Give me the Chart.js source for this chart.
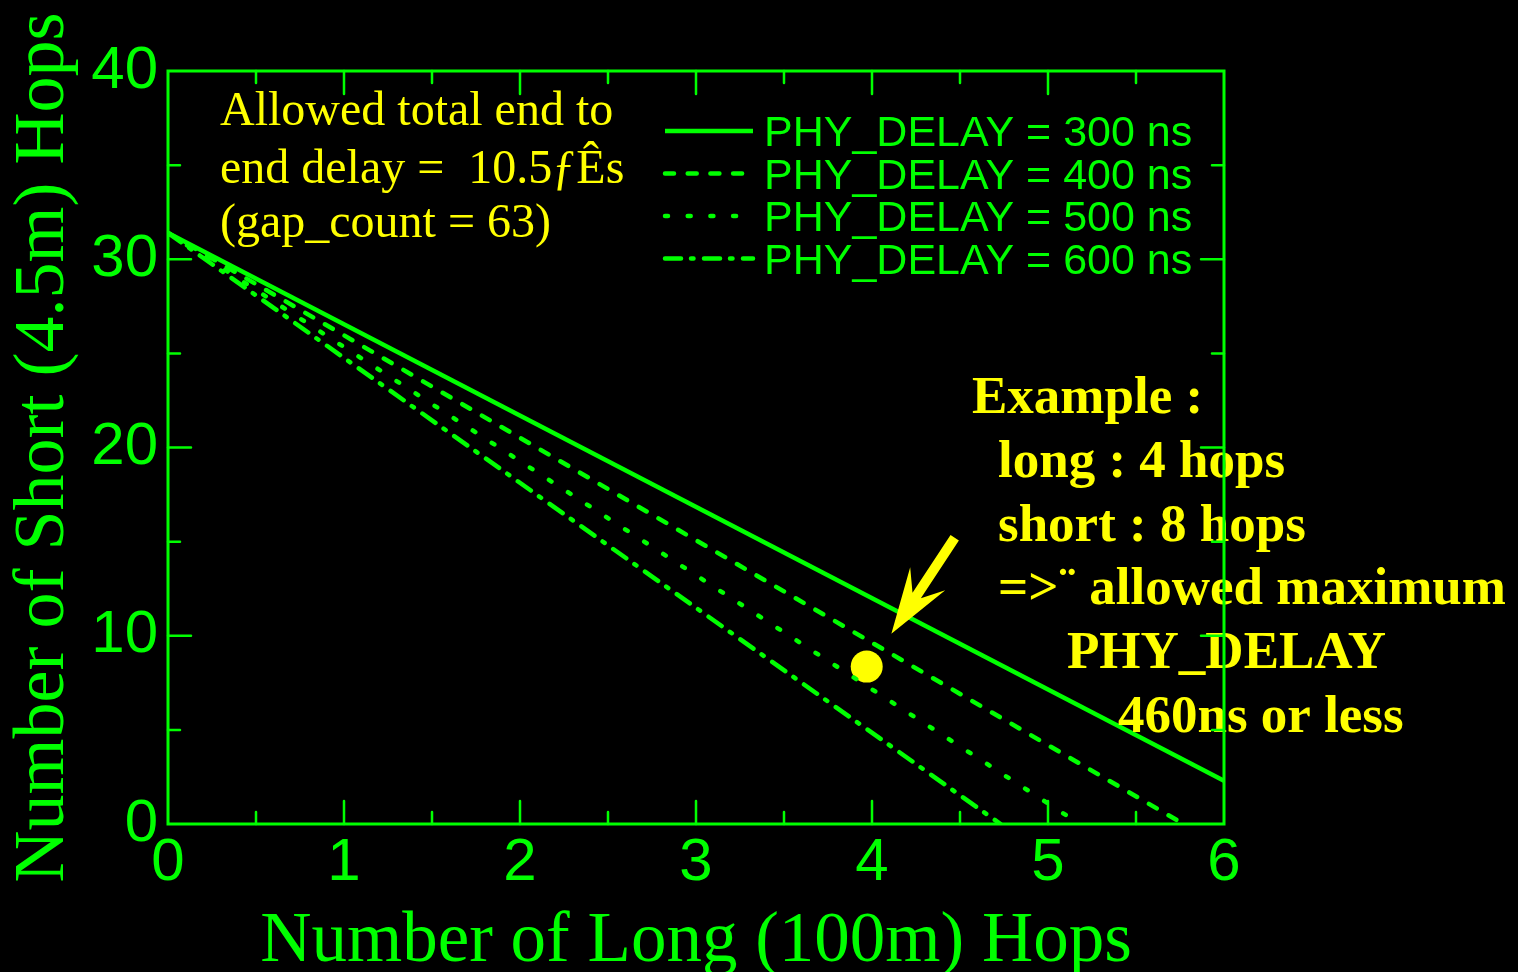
<!DOCTYPE html>
<html>
<head>
<meta charset="utf-8">
<script src="https://cdn.jsdelivr.net/npm/chart.js@4.4.0/dist/chart.umd.min.js"></script>
<style>
  html, body { margin: 0; padding: 0; background: #000; overflow: hidden; }
</style>
</head>
<body>
<canvas id="hopsChart" width="1518" height="972"></canvas>
<script>
const GREEN = '#00ff00';
const YELLOW = '#ffff00';

// values: every curve is a straight line from the same start
const seriesLabels = ['PHY_DELAY = 300 ns', 'PHY_DELAY = 400 ns', 'PHY_DELAY = 500 ns', 'PHY_DELAY = 600 ns'];
const longHops300 = [0, 6];
const shortHops300 = [31.4, 2.3];
const longHops400 = [0, 5.77];
const shortHops400 = [31.4, 0];
const longHops500 = [0, 5.18];
const shortHops500 = [31.4, 0];
const longHops600 = [0, 4.73];
const shortHops600 = [31.4, 0];

// the example point and the arrow pointing at the 460 ns region
const exampleLong = [3.97];
const exampleShort = [8.36];
const arrowTail = [4.47, 15.2];
const arrowTip = [4.11, 10.1];

const xTickLabels = ['0', '1', '2', '3', '4', '5', '6'];
const yTickLabels = ['0', '10', '20', '30', '40'];

const infoLines = ['Allowed total end to', 'end delay =  10.5\u0192\u00cas', '(gap_count = 63)'];
const exampleLines = ['Example :', 'long : 4 hops', 'short : 8 hops', '=>\u00a8 allowed maximum', 'PHY_DELAY', '460ns or less'];

const dashes = [[], [9, 13.7], [3, 19.7], [16, 10, 2.5, 10.5]];

function toPoints(xs, ys) {
  return xs.map((x, i) => ({ x: x, y: ys[i] }));
}

const lineSets = [
  toPoints(longHops300, shortHops300),
  toPoints(longHops400, shortHops400),
  toPoints(longHops500, shortHops500),
  toPoints(longHops600, shortHops600)
];

const datasets = lineSets.map((pts, i) => ({
  label: seriesLabels[i],
  data: pts,
  showLine: true,
  borderColor: GREEN,
  borderWidth: 4.5,
  borderDash: dashes[i],
  borderCapStyle: i === 0 ? 'butt' : 'round',
  pointRadius: 0,
  fill: false
}));

datasets.push({
  label: 'example',
  data: toPoints(exampleLong, exampleShort),
  showLine: false,
  pointRadius: 16,
  pointBackgroundColor: YELLOW,
  pointBorderWidth: 0
});

const decorations = {
  id: 'decorations',
  beforeDraw(chart) {
    const ctx = chart.ctx;
    ctx.save();
    ctx.fillStyle = '#000';
    ctx.fillRect(0, 0, chart.width, chart.height);
    ctx.restore();
  },
  afterDatasetsDraw(chart) {
    const { ctx, chartArea: a, scales: { x, y } } = chart;
    ctx.save();

    // legend
    ctx.font = '43px "Liberation Sans"';
    ctx.textBaseline = 'alphabetic';
    ctx.fillStyle = GREEN;
    ctx.strokeStyle = GREEN;
    ctx.lineWidth = 4.5;
    seriesLabels.forEach((lbl, i) => {
      const ly = 131 + i * 42.5;
      ctx.setLineDash(dashes[i]);
      ctx.lineCap = i === 0 ? 'butt' : 'round';
      ctx.beginPath();
      ctx.moveTo(a.left + 497, ly);
      ctx.lineTo(a.left + 585, ly);
      ctx.stroke();
      ctx.fillText(lbl, a.left + 596, ly + 15);
    });
    ctx.setLineDash([]);

    // top-left note
    ctx.fillStyle = YELLOW;
    ctx.font = '48px "Liberation Serif"';
    const infoBase = [125, 183, 237];
    infoLines.forEach((t, i) => ctx.fillText(t, 220, infoBase[i]));

    // example note
    ctx.font = 'bold 53px "Liberation Serif"';
    const exX = [972, 998, 998, 998, 1067, 1118];
    exampleLines.forEach((t, i) => ctx.fillText(t, exX[i], 413 + i * 63.8));

    // arrow
    const tx = x.getPixelForValue(arrowTip[0]), ty = y.getPixelForValue(arrowTip[1]);
    const sx = x.getPixelForValue(arrowTail[0]), sy = y.getPixelForValue(arrowTail[1]);
    const len = Math.hypot(tx - sx, ty - sy);
    const dx = (tx - sx) / len, dy = (ty - sy) / len;
    const px = -dy, py = dx;
    const headLen = 66, headHalf = 21, notch = 46, shaft = 5;
    ctx.beginPath();
    ctx.moveTo(tx, ty);
    ctx.lineTo(tx - dx * headLen + px * headHalf, ty - dy * headLen + py * headHalf);
    ctx.lineTo(tx - dx * notch + px * shaft, ty - dy * notch + py * shaft);
    ctx.lineTo(sx + px * shaft, sy + py * shaft);
    ctx.lineTo(sx - px * shaft, sy - py * shaft);
    ctx.lineTo(tx - dx * notch - px * shaft, ty - dy * notch - py * shaft);
    ctx.lineTo(tx - dx * headLen - px * headHalf, ty - dy * headLen - py * headHalf);
    ctx.closePath();
    ctx.fill();

    // frame and inward ticks on all four sides
    ctx.strokeStyle = GREEN;
    ctx.lineWidth = 2.5;
    x.ticks.forEach(t => {
      if (t.value <= x.min || t.value >= x.max) return;
      const p = x.getPixelForValue(t.value);
      const l = Number.isInteger(t.value) ? 23 : 12;
      ctx.beginPath();
      ctx.moveTo(p, a.bottom); ctx.lineTo(p, a.bottom - l);
      ctx.moveTo(p, a.top); ctx.lineTo(p, a.top + l);
      ctx.stroke();
    });
    y.ticks.forEach(t => {
      if (t.value <= y.min || t.value >= y.max) return;
      const p = y.getPixelForValue(t.value);
      const l = t.value % 10 === 0 ? 23 : 12;
      ctx.beginPath();
      ctx.moveTo(a.left, p); ctx.lineTo(a.left + l, p);
      ctx.moveTo(a.right, p); ctx.lineTo(a.right - l, p);
      ctx.stroke();
    });
    ctx.lineWidth = 3;
    ctx.strokeRect(a.left, a.top, a.right - a.left, a.bottom - a.top);
    ctx.restore();
  }
};

new Chart(document.getElementById('hopsChart'), {
  type: 'scatter',
  data: { datasets: datasets },
  plugins: [decorations],
  options: {
    responsive: false,
    animation: false,
    devicePixelRatio: 1,
    layout: { padding: { top: 71, right: 294, left: 0, bottom: 0 } },
    plugins: { legend: { display: false }, tooltip: { enabled: false } },
    scales: {
      x: {
        type: 'linear',
        min: 0,
        max: 6,
        grid: { display: false },
        border: { display: false },
        ticks: {
          stepSize: 0.5,
          autoSkip: false,
          maxRotation: 0,
          padding: 1,
          color: GREEN,
          font: { family: 'Liberation Sans', size: 60, lineHeight: 1 },
          callback: v => Number.isInteger(v) ? xTickLabels[v] : ''
        },
        title: {
          display: true,
          text: 'Number of Long (100m) Hops',
          color: GREEN,
          font: { family: 'Liberation Serif', size: 71, lineHeight: 1 },
          padding: { top: 0, bottom: -6 }
        },
        afterFit: s => { s.height = 148; }
      },
      y: {
        type: 'linear',
        min: 0,
        max: 40,
        grid: { display: false },
        border: { display: false },
        ticks: {
          stepSize: 5,
          autoSkip: false,
          padding: 2,
          color: GREEN,
          font: { family: 'Liberation Sans', size: 60 },
          callback: v => v % 10 === 0 ? yTickLabels[v / 10] : ''
        },
        title: {
          display: true,
          text: 'Number of Short (4.5m) Hops',
          color: GREEN,
          font: { family: 'Liberation Serif', size: 72, lineHeight: 1 },
          padding: { top: 8.5, bottom: 0 }
        },
        afterFit: s => { s.width = 168; }
      }
    }
  }
});
</script>
</body>
</html>
